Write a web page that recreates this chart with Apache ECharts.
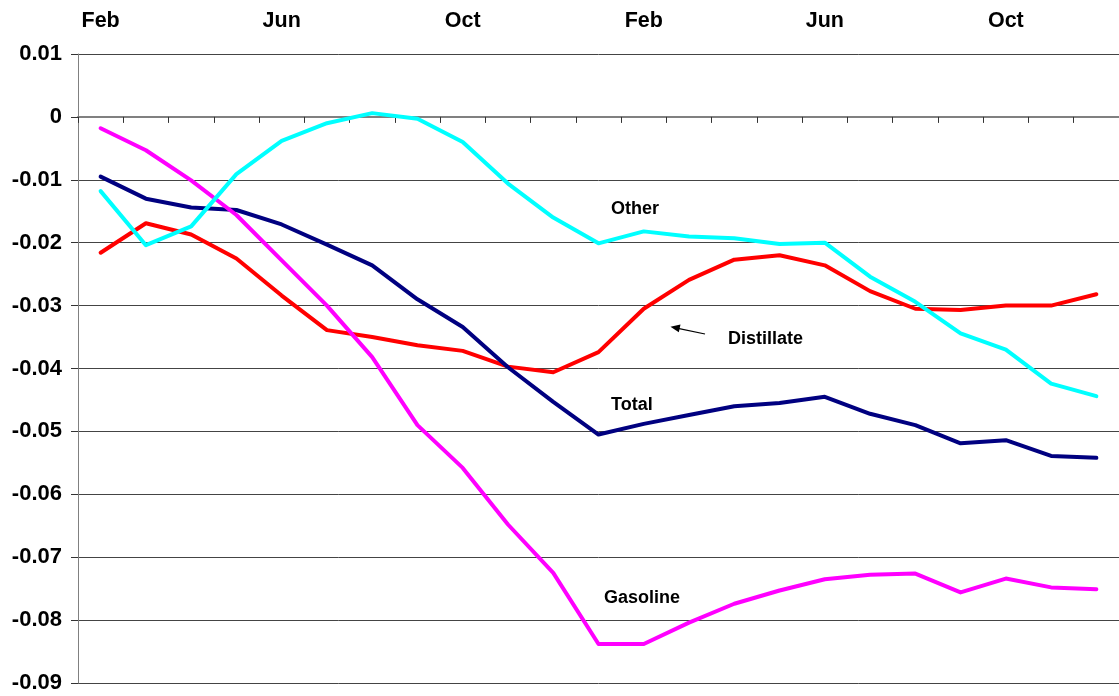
<!DOCTYPE html>
<html>
<head>
<meta charset="utf-8">
<script src="https://cdn.jsdelivr.net/npm/echarts@6/dist/echarts.min.js"></script>
<style>
html,body{margin:0;padding:0;background:#fff;}
#c{width:1119px;height:696px;}
</style>
</head>
<body>
<div id="c"></div>
<script>
var months = ['Feb','Mar','Apr','May','Jun','Jul','Aug','Sep','Oct','Nov','Dec','Jan',
              'Feb','Mar','Apr','May','Jun','Jul','Aug','Sep','Oct','Nov','Dec'];
var distillate = [-0.0216,-0.0169,-0.0187,-0.0225,-0.0284,-0.0339,-0.0350,-0.0363,-0.0372,-0.0397,-0.0406,-0.0374,
                  -0.0305,-0.0259,-0.0227,-0.0220,-0.0236,-0.0277,-0.0305,-0.0307,-0.0300,-0.0300,-0.0282];
var total = [-0.0095,-0.0130,-0.0144,-0.0148,-0.0171,-0.0203,-0.0236,-0.0290,-0.0334,-0.0398,-0.0453,-0.0505,
             -0.0488,-0.0474,-0.0460,-0.0455,-0.0445,-0.0472,-0.0490,-0.0519,-0.0514,-0.0539,-0.0542];
var gasoline = [-0.0018,-0.0053,-0.0101,-0.0156,-0.0228,-0.0300,-0.0382,-0.0490,-0.0558,-0.0648,-0.0725,-0.0838,
                -0.0838,-0.0804,-0.0774,-0.0753,-0.0735,-0.0728,-0.0726,-0.0756,-0.0734,-0.0748,-0.0751];
var other = [-0.0118,-0.0204,-0.0174,-0.0091,-0.0038,-0.0010,0.0006,-0.0003,-0.0040,-0.0106,-0.0160,-0.0201,
             -0.0182,-0.0190,-0.0193,-0.0202,-0.0200,-0.0254,-0.0294,-0.0344,-0.0370,-0.0424,-0.0444];
var yTicks = {min:-0.09, max:0.01, step:0.01};

var FONT = '"Liberation Sans", Arial, sans-serif';
var chart = echarts.init(document.getElementById('c'), null, {renderer:'canvas'});

function line(name, data, color){
  return {name:name, type:'line', data:data, symbol:'none', smooth:false,
          lineStyle:{color:color, width:4, cap:'round', join:'round'},
          itemStyle:{color:color}, animation:false, xAxisIndex:0};
}

chart.setOption({
  backgroundColor:'#ffffff',
  animation:false,
  grid:{left:78, top:54, width:1046, height:629, containLabel:false},
  xAxis:[{
    type:'category', data:months, boundaryGap:true, position:'bottom',
    axisLine:{show:true, onZero:true, lineStyle:{color:'#808080', width:2}},
    axisTick:{show:true, interval:0, length:6, inside:false, lineStyle:{color:'#333', width:1}},
    axisLabel:{show:false}, splitLine:{show:false}
  },{
    type:'category', data:months, boundaryGap:true, position:'top',
    axisLine:{show:false, onZero:false}, axisTick:{show:false},
    axisLabel:{show:true, interval:3, margin:22, color:'#000', fontFamily:FONT, fontWeight:'bold', fontSize:21.5},
    splitLine:{show:false}
  }],
  yAxis:{
    type:'value', min:yTicks.min, max:yTicks.max, interval:yTicks.step,
    axisLine:{show:true, onZero:false, lineStyle:{color:'#808080', width:1}},
    axisTick:{show:true, length:7, lineStyle:{color:'#333'}},
    axisLabel:{margin:16, color:'#000', fontFamily:FONT, fontWeight:'bold', fontSize:22,
      formatter:function(v){ return String(Number(v.toFixed(2))); }},
    splitLine:{show:true, lineStyle:{color:'#444', width:1}}
  },
  series:[
    line('Distillate', distillate, '#FF0000'),
    line('Total', total, '#000080'),
    line('Gasoline', gasoline, '#FF00FF'),
    line('Other', other, '#00FFFF')
  ],
  graphic:[
    {type:'text', left:611, top:200, z:100, style:{text:'Other', font:'bold 18px '+FONT, fill:'#000'}},
    {type:'text', left:728, top:330, z:100, style:{text:'Distillate', font:'bold 18px '+FONT, fill:'#000'}},
    {type:'text', left:611, top:396, z:100, style:{text:'Total', font:'bold 18px '+FONT, fill:'#000'}},
    {type:'text', left:604, top:589, z:100, style:{text:'Gasoline', font:'bold 18px '+FONT, fill:'#000'}},
    {type:'line', z:100, shape:{x1:705, y1:334, x2:678, y2:328.3}, style:{stroke:'#000', lineWidth:1.2}},
    {type:'polygon', z:100, shape:{points:[[670.5,326.7],[680.5,324.5],[678.8,332.3]]}, style:{fill:'#000'}}
  ]
});
</script>
</body>
</html>
